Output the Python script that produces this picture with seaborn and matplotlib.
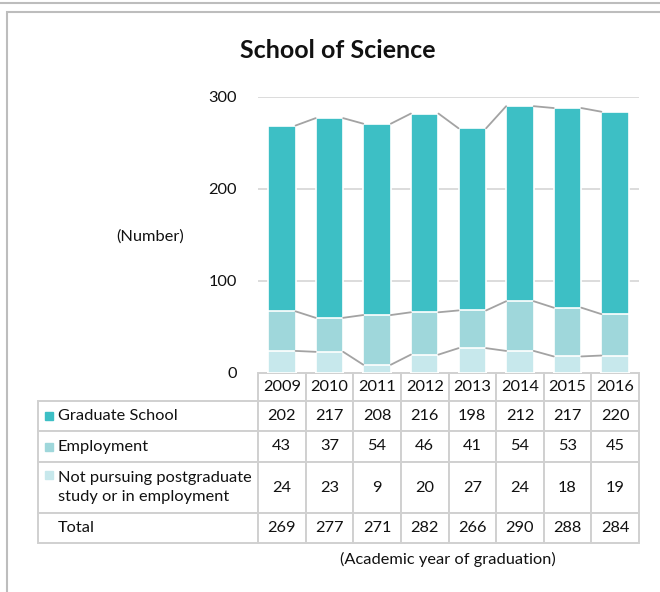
import matplotlib
matplotlib.use("Agg")
import matplotlib.pyplot as plt
from matplotlib.patches import Rectangle
from matplotlib.lines import Line2D
import seaborn as sns
import numpy as np

# Chart data
years = ["2009", "2010", "2011", "2012", "2013", "2014", "2015", "2016"]
graduate_school = [202, 217, 208, 216, 198, 212, 217, 220]
employment = [43, 37, 54, 46, 41, 54, 53, 45]
not_pursuing = [24, 23, 9, 20, 27, 24, 18, 19]
totals = [269, 277, 271, 282, 266, 290, 288, 284]

series_names = ["Graduate School", "Employment",
                "Not pursuing postgraduate\nstudy or in employment"]
colors = ["#3dbfc5", "#9fd7db", "#c7e8ec"]

sns.set_style("white")
plt.rcParams["font.family"] = ["Lato", "DejaVu Sans"]
plt.rcParams["text.color"] = "#111111"
FS = 11.8

W, H = 660, 592
fig = plt.figure(figsize=(W / 100, H / 100), dpi=100)

# axes placed in pixel terms: x 258..639, y 97..373
ax_l, ax_r, ax_t, ax_b = 258, 639, 97, 373
ax = fig.add_axes([ax_l / W, 1 - ax_b / H, (ax_r - ax_l) / W, (ax_b - ax_t) / H])

# stacked bars: draw the cumulative heights, tallest first
lvl_np = np.array(not_pursuing)
lvl_emp = lvl_np + np.array(employment)
lvl_grad = lvl_emp + np.array(graduate_school)
bar_w = 0.58
for lvl, col in zip([lvl_grad, lvl_emp, lvl_np], colors):
    sns.barplot(x=years, y=lvl, color=col, saturation=1, width=bar_w,
                edgecolor="white", linewidth=1.2, errorbar=None, ax=ax, zorder=3)

# series lines between bar tops
for lvl in [lvl_np, lvl_emp, lvl_grad]:
    for i in range(len(years) - 1):
        ax.plot([i + bar_w / 2, i + 1 - bar_w / 2], [lvl[i], lvl[i + 1]],
                color="#a3a3a3", lw=1.3, zorder=4, clip_on=False)

ax.set_xlim(-0.5, len(years) - 0.5)
ax.set_ylim(0, 300)
ax.set_yticks([0, 100, 200, 300])
ax.tick_params(axis="y", length=0, pad=15, labelsize=FS, labelcolor="#111111")
ax.set_xticks([])
ax.set_xlabel("")
ax.set_ylabel("")
for y in [100, 200, 300]:
    ax.axhline(y, color="#d9d9d9", lw=1.3, zorder=1)
sns.despine(ax=ax, left=True, bottom=True)

# data table under the axes
ax_w_px = ax_r - ax_l
ax_h_px = ax_b - ax_t
label_w = 258 - 38
col_w = ax_w_px / len(years)
row_h = [28, 30, 31, 51, 30]

cell_text = [[""] + years]
for name, vals in zip(series_names + ["Total"],
                      [graduate_school, employment, not_pursuing, totals]):
    cell_text.append([name] + [str(v) for v in vals])

tbl = ax.table(cellText=cell_text,
               colWidths=[label_w] + [col_w] * len(years),
               bbox=[-label_w / ax_w_px, -sum(row_h) / ax_h_px,
                     (label_w + ax_w_px) / ax_w_px, sum(row_h) / ax_h_px])
tbl.auto_set_font_size(False)
tbl.set_fontsize(FS)
for (r, c), cell in tbl.get_celld().items():
    cell.set_height(row_h[r])
    cell.set_edgecolor("#d0d0d0")
    cell.set_linewidth(1.4)
    cell.get_text().set_color("#111111")
    if c == 0:
        cell.PAD = 0.09
        cell.set_text_props(ha="left", multialignment="left", linespacing=1.4)
        cell._loc = "left"
    else:
        cell._loc = "center"
        cell.set_text_props(ha="center")
tbl[0, 0].visible_edges = "open"

# legend keys in front of the row labels
key_y = [(373 - 416) / ax_h_px, (373 - 447) / ax_h_px, (373 - 475) / ax_h_px]
for ky, col in zip(key_y, colors):
    ax.plot([(49 - ax_l) / ax_w_px], [ky], marker="s", markersize=5.2,
            color=col, transform=ax.transAxes, clip_on=False, zorder=6)

fig.text(338 / W, 1 - 50 / H, "School of Science", ha="center", va="center",
         fontsize=18, fontweight="bold")
fig.text(150 / W, 1 - 237 / H, "(Number)", ha="center", va="center", fontsize=FS)
fig.text(448 / W, 1 - 559 / H, "(Academic year of graduation)", ha="center",
         va="center", fontsize=FS)

# panel frames
fig.add_artist(Line2D([0, 1], [1 - 3 / H, 1 - 3 / H], color="#bdbdbd", lw=1.5,
                      transform=fig.transFigure))
fig.add_artist(Rectangle((7 / W, -0.05), 1, 1 - 12 / H + 0.05, fill=False,
                         edgecolor="#bdbdbd", lw=1.5, transform=fig.transFigure))

fig.savefig("out.png", dpi=100)
